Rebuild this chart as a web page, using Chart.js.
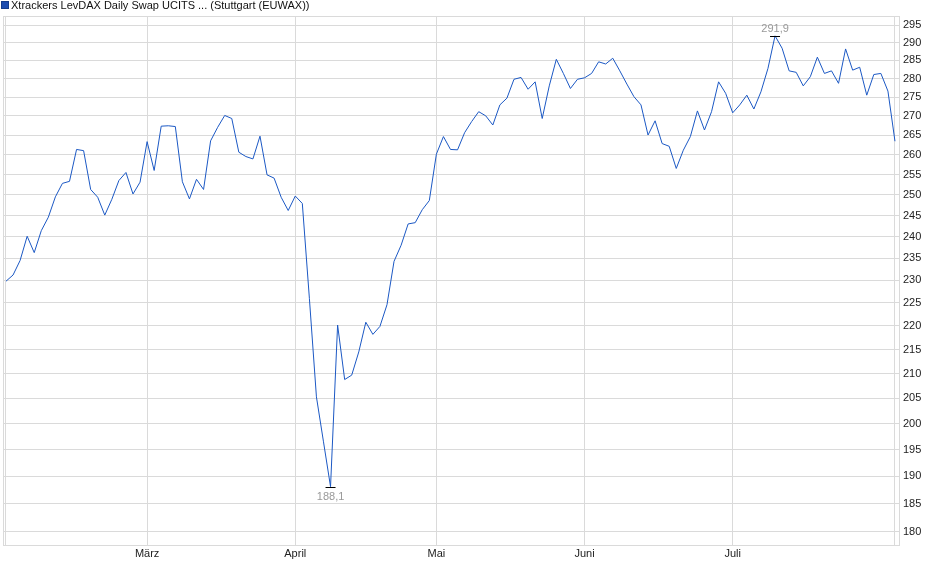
<!DOCTYPE html>
<html>
<head>
<meta charset="utf-8">
<title>Xtrackers LevDAX Daily Swap UCITS</title>
<script src="https://cdn.jsdelivr.net/npm/chart.js@4.4.1/dist/chart.umd.min.js"></script>
<style>
    html, body { margin:0; padding:0; background:#fff; }
    #wrap { position:relative; width:940px; height:579px; }
</style>
</head>
<body>
<div id="wrap"><canvas id="myChart"></canvas></div>
<script>
// Kurs je Handelstag (Index 0 = erster Tag im Chart)
const kurse = [
    229.8, 231.2, 234.5, 240.1, 236.3, 241.4, 244.6, 249.5, 252.8, 253.3,
    261.3, 261.0, 251.3, 249.4, 245.1, 248.9, 253.5, 255.5, 250.2, 253.1,
    263.3, 256.0, 267.3, 267.4, 267.2, 253.2, 249.0, 253.8, 251.3, 263.5,
    267.0, 270.1, 269.3, 260.6, 259.5, 258.9, 264.7, 254.9, 254.1, 249.4,
    246.2, 249.7, 247.9, 226.0, 205.3, 196.5, 188.1, 220.2, 208.8, 209.7,
    214.5, 220.8, 218.2, 219.9, 224.6, 234.3, 238.0, 243.0, 243.3, 246.4,
    248.6, 260.1, 264.6, 261.3, 261.2, 265.6, 268.5, 271.1, 270.0, 267.6,
    272.9, 274.7, 279.8, 280.3, 277.1, 279.1, 269.3, 278.0, 285.3, 281.4,
    277.3, 279.8, 280.2, 281.4, 284.6, 284.0, 285.6, 282.1, 278.5, 275.1,
    272.9, 265.0, 268.7, 262.8, 262.1, 256.5, 261.1, 264.6, 271.3, 266.3,
    271.1, 279.1, 276.0, 270.8, 272.9, 275.5, 271.8, 276.4, 282.8, 291.9,
    288.4, 282.1, 281.7, 278.0, 280.5, 285.9, 281.4, 282.1, 278.7, 288.2,
    282.3, 283.1, 275.5, 281.1, 281.4, 276.6, 263.4
];

// erster Handelstag jedes Monats (Index in kurse)
const monatsStart = [0, 20, 41, 61, 82, 103, 126];
const monatsNamen = ["", "März", "April", "Mai", "Juni", "Juli", ""];

// Y-Achse (logarithmisch)
const yTicks = [180, 185, 190, 195, 200, 205, 210, 215, 220, 225, 230, 235,
    240, 245, 250, 255, 260, 265, 270, 275, 280, 285, 290, 295];
const yMin = 177.7;
const yMax = 297.6;

const titel = "Xtrackers LevDAX Daily Swap UCITS ... (Stuttgart (EUWAX))";

const linienFarbe = "#1b58c4";
const gitterFarbe = "#dadada";
const schrift = "'Liberation Sans', Arial, sans-serif";

const formatDE = (v)=>{
    return v.toFixed(1).replace(".", ",");
}

// Rahmen, Legende und Min/Max-Markierung
const extras = {
    id: "extras",
    afterDraw: function(chart){
        const ctx = chart.ctx;
        const area = chart.chartArea;
        const x = chart.scales.x;
        const y = chart.scales.y;

        ctx.save();
        ctx.strokeStyle = gitterFarbe;
        ctx.lineWidth = 1;
        ctx.strokeRect(area.left + 0.5, area.top + 0.5, area.right - area.left, area.bottom - area.top);

        // Legende
        ctx.fillStyle = "#1c4cb0";
        ctx.fillRect(1, 1, 8, 8);
        ctx.strokeStyle = "#143c8c";
        ctx.strokeRect(1.5, 1.5, 7, 7);
        ctx.fillStyle = "#111";
        ctx.font = "11px " + schrift;
        ctx.textAlign = "left";
        ctx.textBaseline = "alphabetic";
        ctx.fillText(titel, 11, 9);

        // Hoch / Tief
        let iMax = 0, iMin = 0;
        for(var i = 0; i < kurse.length; i++){
            if(kurse[i] > kurse[iMax]) iMax = i;
            if(kurse[i] < kurse[iMin]) iMin = i;
        }
        ctx.font = "11px " + schrift;
        ctx.textAlign = "center";
        ctx.strokeStyle = "#000";
        ctx.fillStyle = "#999";

        const px1 = x.getPixelForValue(iMax);
        const py1 = y.getPixelForValue(kurse[iMax]);
        ctx.beginPath();
        ctx.moveTo(px1 - 5, Math.round(py1) + 0.5);
        ctx.lineTo(px1 + 5, Math.round(py1) + 0.5);
        ctx.stroke();
        ctx.fillText(formatDE(kurse[iMax]), px1, py1 - 4);

        const px2 = x.getPixelForValue(iMin);
        const py2 = y.getPixelForValue(kurse[iMin]);
        ctx.beginPath();
        ctx.moveTo(px2 - 5, Math.round(py2) + 0.5);
        ctx.lineTo(px2 + 5, Math.round(py2) + 0.5);
        ctx.stroke();
        ctx.textBaseline = "top";
        ctx.fillText(formatDE(kurse[iMin]), px2, py2 + 5);
        ctx.restore();
    }
};

const data = {
    datasets: [{
        label: titel,
        data: kurse.map((v, i)=>({x: i, y: v})),
        borderColor: linienFarbe,
        backgroundColor: linienFarbe,
        borderWidth: 1,
        pointRadius: 0,
        tension: 0,
        fill: false
    }]
};

const config = {
    type: "line",
    data: data,
    options: {
        responsive: true,
        maintainAspectRatio: false,
        animation: false,
        layout: { padding: { left: 3, top: 16, right: 0, bottom: 0 } },
        plugins: {
            legend: { display: false },
            tooltip: { enabled: false }
        },
        scales: {
            x: {
                type: "linear",
                min: -0.425,
                max: 126.57,
                afterBuildTicks: function(scale){
                    scale.ticks = monatsStart.map(v=>({value: v}));
                },
                afterFit: function(scale){
                    scale.height = 34;
                },
                grid: { color: gitterFarbe, drawTicks: false },
                border: { color: gitterFarbe },
                ticks: {
                    autoSkip: false,
                    maxRotation: 0,
                    padding: 2,
                    color: "#222",
                    font: { size: 11, family: schrift },
                    callback: function(value){
                        const k = monatsStart.indexOf(value);
                        return k >= 0 ? monatsNamen[k] : "";
                    }
                }
            },
            y: {
                type: "logarithmic",
                position: "right",
                min: yMin,
                max: yMax,
                afterBuildTicks: function(scale){
                    scale.ticks = yTicks.map(v=>({value: v}));
                },
                afterFit: function(scale){
                    scale.width = 41;
                },
                grid: { color: gitterFarbe, drawTicks: false },
                border: { color: gitterFarbe },
                ticks: {
                    autoSkip: false,
                    padding: 4,
                    color: "#222",
                    font: { size: 11, family: schrift },
                    callback: function(value){
                        return String(value);
                    }
                }
            }
        }
    },
    plugins: [extras]
};

var myChart = new Chart(document.getElementById("myChart"), config);
</script>
</body>
</html>
